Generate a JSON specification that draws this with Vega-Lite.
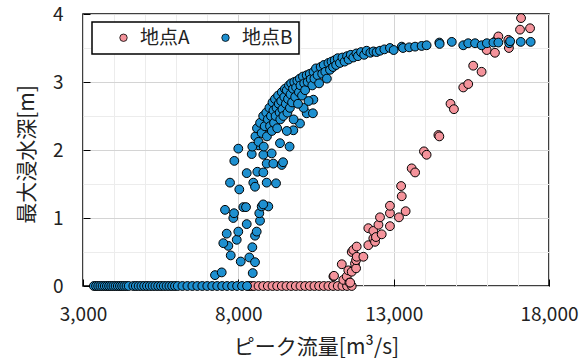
{
"$schema":"https://vega.github.io/schema/vega-lite/v6.json",
"width":466,"height":272,
"autosize":{"type":"none"},
"padding":{"left":83,"top":14,"right":38,"bottom":74},
"background":"white",
"config":{"view":{"stroke":"#000","strokeWidth":1.5},"font":"Noto Sans CJK JP"},
"data":{"values":[
{"site":"地点A","q":8350,"d":0},{"site":"地点A","q":8420,"d":0},{"site":"地点A","q":8500,"d":0},{"site":"地点A","q":8650,"d":0},{"site":"地点A","q":8800,"d":0},{"site":"地点A","q":8950,"d":0},{"site":"地点A","q":9100,"d":0},{"site":"地点A","q":9250,"d":0},{"site":"地点A","q":9400,"d":0},{"site":"地点A","q":9550,"d":0},{"site":"地点A","q":9700,"d":0},{"site":"地点A","q":9850,"d":0},{"site":"地点A","q":10000,"d":0},{"site":"地点A","q":10150,"d":0},{"site":"地点A","q":10300,"d":0},{"site":"地点A","q":10450,"d":0},{"site":"地点A","q":10600,"d":0},{"site":"地点A","q":10750,"d":0},{"site":"地点A","q":10900,"d":0},{"site":"地点A","q":11050,"d":0},{"site":"地点A","q":11200,"d":0},{"site":"地点A","q":11350,"d":0},{"site":"地点A","q":11500,"d":0},{"site":"地点A","q":11650,"d":0},
{"site":"地点A","q":11060,"d":0.14},{"site":"地点A","q":11080,"d":0.15},{"site":"地点A","q":11330,"d":0.32},{"site":"地点A","q":11380,"d":0.09},{"site":"地点A","q":11490,"d":0.14},{"site":"地点A","q":11540,"d":0.23},{"site":"地点A","q":11575,"d":0.05},{"site":"地点A","q":11600,"d":0.05},{"site":"地点A","q":11650,"d":0.21},{"site":"地点A","q":11650,"d":0.5},{"site":"地点A","q":11700,"d":0.53},{"site":"地点A","q":11755,"d":0.33},{"site":"地点A","q":11790,"d":0.26},{"site":"地点A","q":11790,"d":0.38},{"site":"地点A","q":11810,"d":0.58},{"site":"地点A","q":11810,"d":0.43},{"site":"地点A","q":12025,"d":0.43},{"site":"地点A","q":12185,"d":0.6},{"site":"地点A","q":12185,"d":0.85},{"site":"地点A","q":12345,"d":0.7},{"site":"地点A","q":12345,"d":0.81},{"site":"地点A","q":12400,"d":0.65},{"site":"地点A","q":12430,"d":0.72},{"site":"地点A","q":12510,"d":0.9},{"site":"地点A","q":12560,"d":1.01},{"site":"地点A","q":12615,"d":0.76},{"site":"地点A","q":12880,"d":0.88},{"site":"地点A","q":12880,"d":1.07},{"site":"地点A","q":12880,"d":1.18},{"site":"地点A","q":13170,"d":1.01},{"site":"地点A","q":13385,"d":1.1},{"site":"地点A","q":13240,"d":1.47},{"site":"地点A","q":13260,"d":1.32},{"site":"地点A","q":13580,"d":1.73},{"site":"地点A","q":13690,"d":1.67},{"site":"地点A","q":13975,"d":1.98},{"site":"地点A","q":14060,"d":1.93},{"site":"地点A","q":14440,"d":2.22},{"site":"地点A","q":14470,"d":2.2},{"site":"地点A","q":14830,"d":2.68},{"site":"地点A","q":14940,"d":2.6},{"site":"地点A","q":15240,"d":2.92},{"site":"地点A","q":15400,"d":2.97},{"site":"地点A","q":15560,"d":3.24},{"site":"地点A","q":15830,"d":3.15},{"site":"地点A","q":15995,"d":3.47},{"site":"地点A","q":16260,"d":3.43},{"site":"地点A","q":16320,"d":3.62},{"site":"地点A","q":16370,"d":3.67},{"site":"地点A","q":16690,"d":3.62},{"site":"地点A","q":16710,"d":3.5},{"site":"地点A","q":17067,"d":3.77},{"site":"地点A","q":17100,"d":3.94},{"site":"地点A","q":17390,"d":3.79},
{"site":"地点B","q":3350,"d":0},{"site":"地点B","q":3420,"d":0},{"site":"地点B","q":3490,"d":0},{"site":"地点B","q":3560,"d":0},{"site":"地点B","q":3630,"d":0},{"site":"地点B","q":3700,"d":0},{"site":"地点B","q":3770,"d":0},{"site":"地点B","q":3840,"d":0},{"site":"地点B","q":3910,"d":0},{"site":"地点B","q":3980,"d":0},{"site":"地点B","q":4050,"d":0},{"site":"地点B","q":4120,"d":0},{"site":"地点B","q":4190,"d":0},{"site":"地点B","q":4260,"d":0},{"site":"地点B","q":4330,"d":0},{"site":"地点B","q":4400,"d":0},{"site":"地点B","q":4470,"d":0},
{"site":"地点B","q":4620,"d":0},{"site":"地点B","q":4700,"d":0},{"site":"地点B","q":4790,"d":0},{"site":"地点B","q":4880,"d":0},{"site":"地点B","q":4970,"d":0},{"site":"地点B","q":5060,"d":0},{"site":"地点B","q":5150,"d":0},{"site":"地点B","q":5240,"d":0},{"site":"地点B","q":5330,"d":0},{"site":"地点B","q":5420,"d":0},{"site":"地点B","q":5510,"d":0},{"site":"地点B","q":5600,"d":0},{"site":"地点B","q":5690,"d":0},{"site":"地点B","q":5780,"d":0},{"site":"地点B","q":5870,"d":0},{"site":"地点B","q":5960,"d":0},{"site":"地点B","q":6050,"d":0},
{"site":"地点B","q":6200,"d":0},{"site":"地点B","q":6360,"d":0},{"site":"地点B","q":6520,"d":0},{"site":"地点B","q":6680,"d":0},{"site":"地点B","q":6840,"d":0},{"site":"地点B","q":7000,"d":0},{"site":"地点B","q":7160,"d":0},{"site":"地点B","q":7320,"d":0},{"site":"地点B","q":7480,"d":0},{"site":"地点B","q":7640,"d":0},{"site":"地点B","q":7800,"d":0},{"site":"地点B","q":7960,"d":0},{"site":"地点B","q":8120,"d":0},{"site":"地点B","q":8280,"d":0},
{"site":"地点B","q":7249,"d":0.16},{"site":"地点B","q":7465,"d":0.2},{"site":"地点B","q":7755,"d":0.45},{"site":"地点B","q":8077,"d":0.36},{"site":"地点B","q":8354,"d":0.42},{"site":"地点B","q":8537,"d":0.35},{"site":"地点B","q":8463,"d":0.19},{"site":"地点B","q":8451,"d":0.57},{"site":"地点B","q":7678,"d":0.59},{"site":"地点B","q":7517,"d":0.63},{"site":"地点B","q":7626,"d":0.77},{"site":"地点B","q":7948,"d":0.68},{"site":"地点B","q":7999,"d":0.8},{"site":"地点B","q":8537,"d":0.74},{"site":"地点B","q":8591,"d":0.8},{"site":"地点B","q":8270,"d":0.91},{"site":"地点B","q":8698,"d":0.96},{"site":"地点B","q":7838,"d":1.0},{"site":"地点B","q":7571,"d":1.12},{"site":"地点B","q":7861,"d":1.07},{"site":"地点B","q":8160,"d":1.16},{"site":"地点B","q":8247,"d":1.16},{"site":"地点B","q":8675,"d":1.07},{"site":"地点B","q":8752,"d":1.17},{"site":"地点B","q":8965,"d":1.17},{"site":"地点B","q":8800,"d":1.2},{"site":"地点B","q":7732,"d":1.52},{"site":"地点B","q":8031,"d":1.42},{"site":"地点B","q":8482,"d":1.52},{"site":"地点B","q":8537,"d":1.46},{"site":"地点B","q":8913,"d":1.52},{"site":"地点B","q":9213,"d":1.51},{"site":"地点B","q":8270,"d":1.66},{"site":"地点B","q":8611,"d":1.68},{"site":"地点B","q":8805,"d":1.67},{"site":"地点B","q":7871,"d":1.84},{"site":"地点B","q":7999,"d":2.02},{"site":"地点B","q":8431,"d":1.94},{"site":"地点B","q":8644,"d":2.07},{"site":"地点B","q":8805,"d":1.93},{"site":"地点B","q":9074,"d":1.95},{"site":"地点B","q":8913,"d":1.8},{"site":"地点B","q":9126,"d":1.8},{"site":"地点B","q":9341,"d":2.1},{"site":"地点B","q":8805,"d":2.25},{"site":"地点B","q":9395,"d":1.78},{"site":"地点B","q":9440,"d":1.82},{"site":"地点B","q":9650,"d":2.05},
{"site":"地点B","q":9770,"d":2.29},{"site":"地点B","q":9985,"d":2.39},{"site":"地点B","q":10200,"d":2.54},{"site":"地点B","q":10400,"d":2.54},{"site":"地点B","q":10415,"d":2.74},{"site":"地点B","q":9560,"d":2.28},{"site":"地点B","q":10100,"d":2.62},
{"site":"地点B","q":8450,"d":2.05},{"site":"地点B","q":8550,"d":2.2},{"site":"地点B","q":8600,"d":2.32},{"site":"地点B","q":8650,"d":2.12},{"site":"地点B","q":8700,"d":2.4},{"site":"地点B","q":8750,"d":2.25},{"site":"地点B","q":8800,"d":2.5},{"site":"地点B","q":8820,"d":2.05},{"site":"地点B","q":8850,"d":2.35},{"site":"地点B","q":8900,"d":2.55},{"site":"地点B","q":8920,"d":2.2},{"site":"地点B","q":8950,"d":2.45},{"site":"地点B","q":9000,"d":2.62},{"site":"地点B","q":9020,"d":2.35},{"site":"地点B","q":9050,"d":2.5},{"site":"地点B","q":9080,"d":2.28},{"site":"地点B","q":9100,"d":2.7},{"site":"地点B","q":9130,"d":2.58},{"site":"地点B","q":9150,"d":2.4},{"site":"地点B","q":9180,"d":2.75},{"site":"地点B","q":9200,"d":2.5},{"site":"地点B","q":9230,"d":2.62},{"site":"地点B","q":9250,"d":2.32},{"site":"地点B","q":9280,"d":2.8},{"site":"地点B","q":9300,"d":2.68},{"site":"地点B","q":9330,"d":2.55},{"site":"地点B","q":9350,"d":2.45},{"site":"地点B","q":9380,"d":2.72},{"site":"地点B","q":9400,"d":2.85},{"site":"地点B","q":9420,"d":2.6},{"site":"地点B","q":9450,"d":2.5},{"site":"地点B","q":9480,"d":2.78},{"site":"地点B","q":9500,"d":2.9},{"site":"地点B","q":9530,"d":2.68},{"site":"地点B","q":9560,"d":2.88},{"site":"地点B","q":9580,"d":2.55},{"site":"地点B","q":9600,"d":2.75},{"site":"地点B","q":9630,"d":2.95},{"site":"地点B","q":9660,"d":2.62},{"site":"地点B","q":9680,"d":2.82},{"site":"地点B","q":9700,"d":2.98},{"site":"地点B","q":9730,"d":2.7},{"site":"地点B","q":9760,"d":2.9},{"site":"地点B","q":9780,"d":2.45},{"site":"地点B","q":9800,"d":3.0},{"site":"地点B","q":9830,"d":2.78},{"site":"地点B","q":9860,"d":2.92},{"site":"地点B","q":9900,"d":3.02},{"site":"地点B","q":9920,"d":2.68},{"site":"地点B","q":9950,"d":2.85},{"site":"地点B","q":9980,"d":3.05},{"site":"地点B","q":10000,"d":2.95},{"site":"地点B","q":10050,"d":2.8},{"site":"地点B","q":10080,"d":3.08},{"site":"地点B","q":10120,"d":2.98},{"site":"地点B","q":10150,"d":2.88},{"site":"地点B","q":10200,"d":3.1},{"site":"地点B","q":10230,"d":3.0},{"site":"地点B","q":10260,"d":2.72},{"site":"地点B","q":10300,"d":3.12},{"site":"地点B","q":10330,"d":3.04},{"site":"地点B","q":10380,"d":2.95},{"site":"地点B","q":10420,"d":3.15},{"site":"地点B","q":10450,"d":3.05},{"site":"地点B","q":10500,"d":3.2},{"site":"地点B","q":10550,"d":3.1},{"site":"地点B","q":10600,"d":2.98},{"site":"地点B","q":10650,"d":3.22},{"site":"地点B","q":10700,"d":3.12},{"site":"地点B","q":10750,"d":3.25},{"site":"地点B","q":10800,"d":3.15},{"site":"地点B","q":10850,"d":3.05},{"site":"地点B","q":10900,"d":3.28},{"site":"地点B","q":10950,"d":3.18},{"site":"地点B","q":11000,"d":3.3},{"site":"地点B","q":11050,"d":3.22},{"site":"地点B","q":11100,"d":3.32},{"site":"地点B","q":11150,"d":3.25},{"site":"地点B","q":11200,"d":3.35},{"site":"地点B","q":11270,"d":3.28},{"site":"地点B","q":11350,"d":3.36},{"site":"地点B","q":11420,"d":3.3},{"site":"地点B","q":11500,"d":3.38},{"site":"地点B","q":11550,"d":3.33},{"site":"地点B","q":11620,"d":3.4},{"site":"地点B","q":11700,"d":3.36},{"site":"地点B","q":11800,"d":3.42},{"site":"地点B","q":11850,"d":3.38},{"site":"地点B","q":11950,"d":3.44},{"site":"地点B","q":12050,"d":3.4},{"site":"地点B","q":12130,"d":3.46},{"site":"地点B","q":12250,"d":3.43},{"site":"地点B","q":12350,"d":3.45},{"site":"地点B","q":12450,"d":3.44},{"site":"地点B","q":12560,"d":3.46},{"site":"地点B","q":12700,"d":3.48},{"site":"地点B","q":12880,"d":3.5},{"site":"地点B","q":13000,"d":3.47},{"site":"地点B","q":13260,"d":3.52},{"site":"地点B","q":13300,"d":3.5},{"site":"地点B","q":13500,"d":3.51},{"site":"地点B","q":13690,"d":3.52},{"site":"地点B","q":13900,"d":3.53},{"site":"地点B","q":14060,"d":3.54},{"site":"地点B","q":14470,"d":3.58},{"site":"地点B","q":14480,"d":3.56},{"site":"地点B","q":14870,"d":3.59},{"site":"地点B","q":15240,"d":3.54},{"site":"地点B","q":15400,"d":3.57},{"site":"地点B","q":15620,"d":3.57},{"site":"地点B","q":15830,"d":3.54},{"site":"地点B","q":16000,"d":3.57},{"site":"地点B","q":16210,"d":3.58},{"site":"地点B","q":16370,"d":3.58},{"site":"地点B","q":16720,"d":3.57},{"site":"地点B","q":16750,"d":3.6},{"site":"地点B","q":17090,"d":3.59},{"site":"地点B","q":17410,"d":3.59}
]},
"mark":{"type":"point","filled":true,"size":78,"stroke":"#000","strokeWidth":1,"opacity":1},
"encoding":{
"x":{"field":"q","type":"quantitative","scale":{"domain":[3000,18000],"nice":false,"zero":false},
 "axis":{"title":"ピーク流量[m³/s]","values":[3000,4000,5000,6000,7000,8000,9000,10000,11000,12000,13000,14000,15000,16000,17000,18000],
 "format":",d","labelExpr":"datum.value % 5000 === 3000 ? datum.label : ''","labelFlush":false,"labelOverlap":false,
 "domain":false,"tickSize":-7,"tickColor":{"condition":{"test":"datum.value % 5000 === 3000","value":"#000"},"value":"transparent"},
 "gridColor":{"condition":{"test":"datum.value % 5000 === 3000","value":"#d4d4d4"},"value":"#ececec"},"gridWidth":1,
 "labelFontSize":19,"labelColor":"#222","labelPadding":26,"labelFont":"Noto Sans CJK JP",
 "titleFontSize":21,"titleFontWeight":"normal","titleColor":"#222","titleY":50,"titleFont":"Noto Sans CJK JP"}},
"y":{"field":"d","type":"quantitative","scale":{"domain":[0,4],"nice":false},
 "axis":{"title":"最大浸水深[m]","values":[0,0.5,1,1.5,2,2.5,3,3.5,4],
 "labelExpr":"datum.value % 1 === 0 ? format(datum.value, 'd') : ''","labelOverlap":false,"labelFlush":false,
 "domain":false,"tickSize":-7,"tickColor":{"condition":{"test":"datum.value % 1 === 0","value":"#000"},"value":"transparent"},
 "gridColor":{"condition":{"test":"datum.value % 1 === 0","value":"#d4d4d4"},"value":"#ececec"},"gridWidth":1,
 "labelFontSize":19,"labelColor":"#222","labelPadding":27,"labelFont":"Noto Sans CJK JP",
 "titleFontSize":21,"titleFontWeight":"normal","titleColor":"#222","titleX":-46,"titleY":140,"titleFont":"Noto Sans CJK JP"}},
"color":{"field":"site","type":"nominal","scale":{"domain":["地点A","地点B"],"range":["#F4939B","#1E90D0"]},
 "legend":{"title":null,"orient":"none","legendX":9,"legendY":8,"direction":"horizontal","strokeColor":"#000","fillColor":"#fff","padding":6,
 "labelFontSize":19,"labelColor":"#222","labelFont":"Noto Sans CJK JP","symbolType":"circle","symbolSize":55,"symbolStrokeColor":"#000","symbolStrokeWidth":0.8,"symbolOpacity":1,
 "symbolOffset":16,"columnPadding":10,"labelOffset":7,
 "encode":{"legend":{"update":{"strokeWidth":{"value":1.5}}}}}}
}
}
